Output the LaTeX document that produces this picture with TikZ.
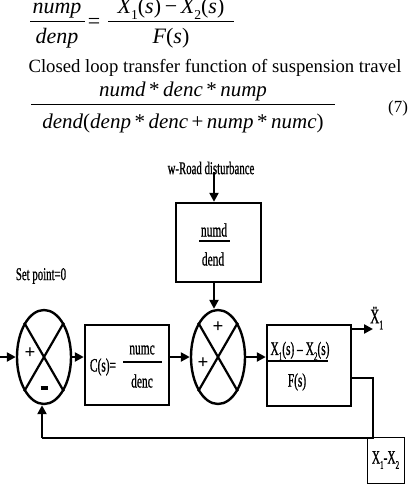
\documentclass[tikz,border=0pt]{standalone}
\usepackage{fontspec}
\usepackage{graphicx}
\setmainfont{Liberation Serif}
\newfontfamily\cond[FakeStretch=0.6,FakeBold=0.8]{Liberation Serif}
\usetikzlibrary{arrows.meta,shapes.geometric}
\newcommand\lowsub[1]{\raisebox{-0.28em}{\scalebox{0.62}{#1}}}
\newcommand\fs[1]{\fontsize{#1}{#1}\selectfont}
\begin{document}
\begin{tikzpicture}[x=1pt,y=-1pt,
  eq/.style={inner sep=0pt, anchor=base, font=\fs{22}\itshape},
  eqb/.style={line width=1pt},
  blk/.style={draw, line width=2.4pt, inner sep=0pt},
  sumnode/.style={ellipse, draw, line width=2.4pt, minimum width=54pt, minimum height=94pt, inner sep=0pt},
  crs/.style={line width=2.2pt},
  arr/.style={line width=2.6pt, -{Triangle[length=9pt,width=9pt]}},
  ln/.style={line width=2.6pt},
  lab/.style={font=\fs{18}\cond, inner sep=0pt},
  blab/.style={font=\fs{19}\cond, inner sep=0pt},
  sgn/.style={font=\fs{19}\bfseries, inner sep=0pt},
  bar/.style={line width=2.6pt}
]
\clip (0,0) rectangle (412,498);
\fill[white] (0,0) rectangle (412,498);

% ---- equation (nump/denp) ----
\node[eq] (nump) at (57,13) {nump};
\node[eq] (denp) at (57,43) {denp};
\draw[eqb] (30,21) -- (85,21);
\node[eq, font=\fs{22}] (eqs) at (94,28) {=};
\node[eq] (xdiff) at (171,13) {X\lowsub{\upshape 1}\upshape(\itshape s\upshape)\,−\,\itshape X\lowsub{\upshape 2}\upshape(\itshape s\upshape)};
\node[eq] (fs) at (171,43) {F\upshape(\itshape s\upshape)};
\draw[eqb] (108,21) -- (234,21);

% ---- caption ----
\node[inner sep=0pt, anchor=base, font=\fs{18.7}] (cap) at (215,72) {Closed loop transfer function of suspension travel};

% ---- equation (7) ----
\node[eq, font=\fs{21}\itshape] (num7) at (183,96) {numd\,\upshape*\itshape\,denc\,\upshape*\itshape\,nump};
\draw[eqb] (31,104.5) -- (335,104.5);
\node[eq, font=\fs{21}\itshape] (den7) at (183,128) {dend\upshape(\itshape denp\,\upshape*\itshape\,denc\,\upshape+\itshape\,nump\,\upshape*\itshape\,numc\upshape)};
\node[inner sep=0pt, anchor=base, font=\fs{17}] (n7) at (398,112) {(7)};

% ---- block diagram ----
\node[lab] (wlab) at (211,168) {w-Road disturbance};
\node[lab] (splab) at (41,276) {Set point=0};

\node[blk, minimum width=85pt, minimum height=79pt] (numd) at (218.5,242.5) {};
\node[blab] (numdt) at (214,230) {numd};
\draw[bar] (199,241) -- (230,241);
\node[blab] (dendt) at (213,259) {dend};

\node[sumnode] (s1) at (44,357) {};
\draw[crs] (s1.60) -- (s1.240);
\draw[crs] (s1.120) -- (s1.300);
\node[sgn] (p1) at (30,353) {+};
\node[sgn] (m1) at (44,388) {\rule{7pt}{3.5pt}};

\node[sumnode] (s2) at (218,357) {};
\draw[crs] (s2.60) -- (s2.240);
\draw[crs] (s2.120) -- (s2.300);
\node[sgn] (p2a) at (218,327) {+};
\node[sgn] (p2b) at (203,363) {+};

\node[blk, minimum width=84pt, minimum height=80pt] (C) at (127,365) {};
\node[blab] (cst) at (103,367) {C(s)=};
\draw[bar] (123,362) -- (162,362);
\node[blab] (numc) at (142,350) {numc};
\node[blab] (denc) at (142,381) {denc};

\node[blk, minimum width=84pt, minimum height=81pt] (P) at (309,365.5) {};
\node[blab] (pnum) at (300,351) {X\lowsub{1}(s) – X\lowsub{2}(s)};
\node[blab] (pden) at (297,382) {F(s)};

\node[draw, line width=0.8pt, inner sep=0pt, minimum width=37pt, minimum height=46pt] (xb) at (385.5,460) {};
\node[blab] (xbt) at (385.5,460) {X\lowsub{1}-X\lowsub{2}};

\node[blab, font=\fs{21}\cond, anchor=west] (acc) at (370,318) {\"{X}\lowsub{1}};

% connectors
\coordinate (d) at (214,172);
\coordinate (in) at (0,357);
\coordinate (out) at (373,329);
\coordinate (fb1) at (373,378);
\coordinate (fb2) at (373,438);
\coordinate (fb3) at (42,438);

\draw[arr] (d) -- (d |- numd.north);
\draw[arr] (numd.south -| d) -- (d |- s2.north);
\draw[arr] (in) -- (s1.west);
\draw[arr] (s1.east) -- (s1.east -| C.west);
\draw[arr] (C.east |- s2.west) -- (s2.west);
\draw[arr] (s2.east) -- (s2.east -| P.west);
\draw[bar] (s2.east -| P.west) ++(0,4) -- (328,361);
\draw[arr] (P.east |- out) -- (out);
\draw[ln] (P.east |- fb1) -- (fb1) -- (fb2) -- (fb3);
\draw[arr] (fb3) -- (fb3 |- s1.south);
\end{tikzpicture}
\end{document}
